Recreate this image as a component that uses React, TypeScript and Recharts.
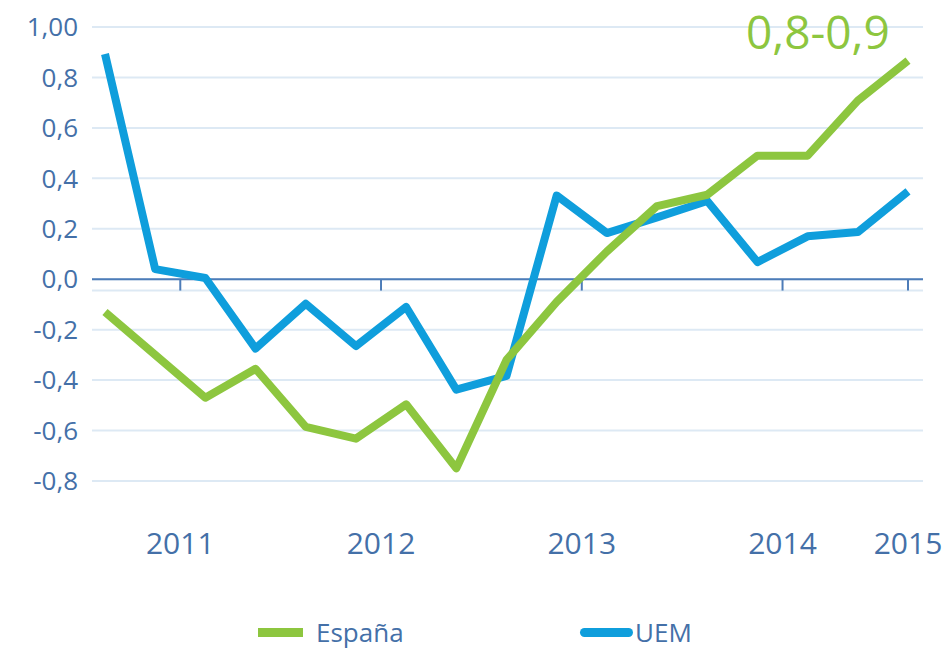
import React from 'react';
import { LineChart, Line, XAxis, YAxis, CartesianGrid, ReferenceLine } from 'recharts';

// quarterly observations, III-2010 .. III-2014
const quarters = [
    'III-2010', 'IV-2010',
    'I-2011', 'II-2011', 'III-2011', 'IV-2011',
    'I-2012', 'II-2012', 'III-2012', 'IV-2012',
    'I-2013', 'II-2013', 'III-2013', 'IV-2013',
    'I-2014', 'II-2014', 'III-2014',
];
const espana = [-0.13, -0.3, -0.47, -0.355, -0.585, -0.632, -0.496, -0.75, -0.32, -0.09, 0.11, 0.29, 0.335, 0.49, 0.49, 0.708, 0.867];
const uem = [0.893, 0.04, 0.005, -0.275, -0.097, -0.265, -0.11, -0.438, -0.383, 0.332, 0.183, 0.245, 0.31, 0.068, 0.17, 0.187, 0.348];

const yearTicks = [1.5, 5.5, 9.5, 13.5, 16];
const yearLabels = ['2011', '2012', '2013', '2014', '2015'];
const yTicks = [-0.8, -0.6, -0.4, -0.2, 0, 0.2, 0.4, 0.6, 0.8, 1.0];
const annotation = '0,8-0,9';

const GREEN = '#8dc63f';
const BLUE = '#0f9edc';
const TEXT = '#4470a8';
const GRID = '#dde9f4';
const AXIS = '#4d7cb8';
const FONT = '"Open Sans", "Noto Sans", sans-serif';

const data = quarters.map((q, i) => ({ q, t: i, espana: espana[i], uem: uem[i] }));

const fmtY = (v: number) => (v === 1 ? '1,00' : v.toFixed(1).replace('.', ','));
const fmtX = (v: number) => yearLabels[yearTicks.indexOf(v)] ?? '';

export default function App() {
    return (
        <div style={{ position: 'absolute', left: 0, top: 0, width: 951, height: 650, background: '#fff', fontFamily: FONT }}>
            <LineChart width={951} height={650} data={data} margin={{ top: 27, right: 28, left: 12, bottom: 109 }}>
                <CartesianGrid vertical={false} stroke={GRID} strokeWidth={2} />
                <XAxis
                    type="number"
                    dataKey="t"
                    domain={[0, 16]}
                    ticks={yearTicks}
                    tickFormatter={fmtX}
                    padding={{ left: 13, right: 15 }}
                    axisLine={false}
                    tickLine={false}
                    tickSize={0}
                    tickMargin={52}
                    height={60}
                    tick={{ fill: TEXT, fontSize: 30, fontFamily: FONT }}
                />
                <YAxis
                    domain={[-0.8, 1.0]}
                    ticks={yTicks}
                    tickFormatter={fmtY}
                    axisLine={false}
                    tickLine={false}
                    tickSize={0}
                    tickMargin={14}
                    width={80}
                    tick={{ fill: TEXT, fontSize: 26, fontFamily: FONT }}
                />
                <ReferenceLine y={-0.045} stroke={GRID} strokeWidth={2} />
                <ReferenceLine y={0} stroke={AXIS} strokeWidth={2} />
                {yearTicks.map((t) => (
                    <ReferenceLine key={t} segment={[{ x: t, y: 0 }, { x: t, y: -0.045 }]} stroke={AXIS} strokeWidth={2} />
                ))}
                <Line dataKey="uem" stroke={BLUE} strokeWidth={8} dot={false} strokeLinejoin="round" isAnimationActive={false} />
                <Line dataKey="espana" stroke={GREEN} strokeWidth={8} dot={false} strokeLinejoin="round" isAnimationActive={false} />
            </LineChart>

            <div style={{ position: 'absolute', left: 746, top: 0, fontSize: 46, lineHeight: 'normal', color: GREEN }}>{annotation}</div>

            <div style={{ position: 'absolute', left: 258, top: 628, width: 45, height: 9, background: GREEN }} />
            <div style={{ position: 'absolute', left: 316, top: 614, fontSize: 26, lineHeight: 'normal', color: TEXT }}>España</div>
            <div style={{ position: 'absolute', left: 580, top: 628, width: 53, height: 9, borderRadius: 5, background: BLUE }} />
            <div style={{ position: 'absolute', left: 635, top: 614, fontSize: 26, lineHeight: 'normal', color: TEXT }}>UEM</div>
        </div>
    );
}
